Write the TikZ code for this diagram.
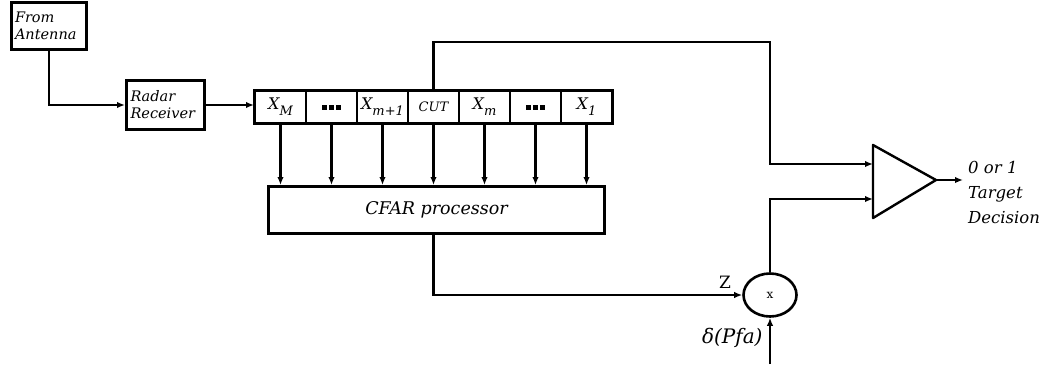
\documentclass[tikz,border=0pt]{standalone}
\usepackage{fontspec}
\setmainfont{DejaVu Serif}
\usetikzlibrary{shapes.geometric,arrows.meta,calc}
\newcommand{\lowsub}[1]{\raisebox{-6pt}{\fontsize{13}{13}\selectfont\itshape #1}}
\begin{document}
\begin{tikzpicture}[x=1pt,y=-1pt,
  box/.style={draw,line width=3pt,inner sep=2pt},
  cell/.style={draw,line width=2pt,minimum width=51pt,minimum height=32pt,inner sep=0pt,font=\fontsize{16}{16}\selectfont\itshape},
  wire/.style={line width=2.2pt},
  arr/.style={wire,-{Latex[length=8pt,width=6.5pt]}},
  lbl/.style={font=\fontsize{14.5}{17}\selectfont\itshape,align=left}]
\useasboundingbox (0,0) rectangle (1048,367);
\node[box,lbl,minimum width=75pt,minimum height=47pt,anchor=north west,text width=68pt] (ant) at (10,1) {From\\Antenna};
\node[box,lbl,minimum width=78pt,minimum height=49pt,anchor=north west,text width=70pt] (rx) at (125,79) {Radar\\Receiver};
\node[cell] (c1) at (280.5,107) {X\lowsub{M}};
\node[cell] (c2) at (331.5,107) {\rule{5pt}{5pt}\hspace{2pt}\rule{5pt}{5pt}\hspace{2pt}\rule{5pt}{5pt}};
\node[cell] (c3) at (382.5,107) {X\lowsub{m+1}};
\node[cell] (c4) at (433.5,107) {\fontsize{13}{13}\selectfont CUT};
\node[cell] (c5) at (484.5,107) {X\lowsub{m}};
\node[cell] (c6) at (535.5,107) {\rule{5pt}{5pt}\hspace{2pt}\rule{5pt}{5pt}\hspace{2pt}\rule{5pt}{5pt}};
\node[cell] (c7) at (586.5,107) {X\lowsub{1}};
\draw[line width=2.8pt] (c1.north west) rectangle (c7.south east);
\node[box,minimum width=336pt,minimum height=47pt,anchor=north west,font=\fontsize{17.5}{17.5}\selectfont\itshape] (cfar) at (267,185) {CFAR processor};
\node[draw,ellipse,line width=2.6pt,minimum width=53pt,minimum height=43pt,inner sep=0pt,font=\fontsize{12}{12}\selectfont] (mul) at (770,295) {x};
\coordinate (tt) at (873,145);
\coordinate (tb) at (873,218);
\coordinate (tip) at (936,180);
\draw[line width=2.4pt,line join=round] (tt) -- (tip) -- (tb) -- cycle;
\coordinate (in1) at (873,164);
\coordinate (in2) at (873,199);
\coordinate (out) at (963,180);
\coordinate (dsrc) at (770,364);
\draw[arr] (ant.south) |- (rx.west);
\draw[arr] (rx.east) -- (rx.east -| c1.west);
\foreach \i in {1,...,7} {\draw[arr] (c\i.south) -- (c\i.south |- cfar.north);}
\draw[arr] (c4.north) -- ++(0,-48) -| (770,164) -- (in1);
\draw[arr] (cfar.south -| c4.south) |- (mul.west);
\draw[arr] (mul.north) |- (in2);
\draw[arr] (dsrc) -- (mul.south);
\draw[arr] (tip) -- (out);
\node[font=\fontsize{17}{17}\selectfont] (z) at (725,282) {Z};
\node[font=\fontsize{20}{20}\selectfont\itshape,anchor=east] (d) at (766,338) {δ(Pfa)};
\node[lbl,font=\fontsize{16.5}{25}\selectfont\itshape,anchor=north west,inner sep=0pt] (dec) at (968,161) {0 or 1\\Target\\Decision};
\end{tikzpicture}
\end{document}
